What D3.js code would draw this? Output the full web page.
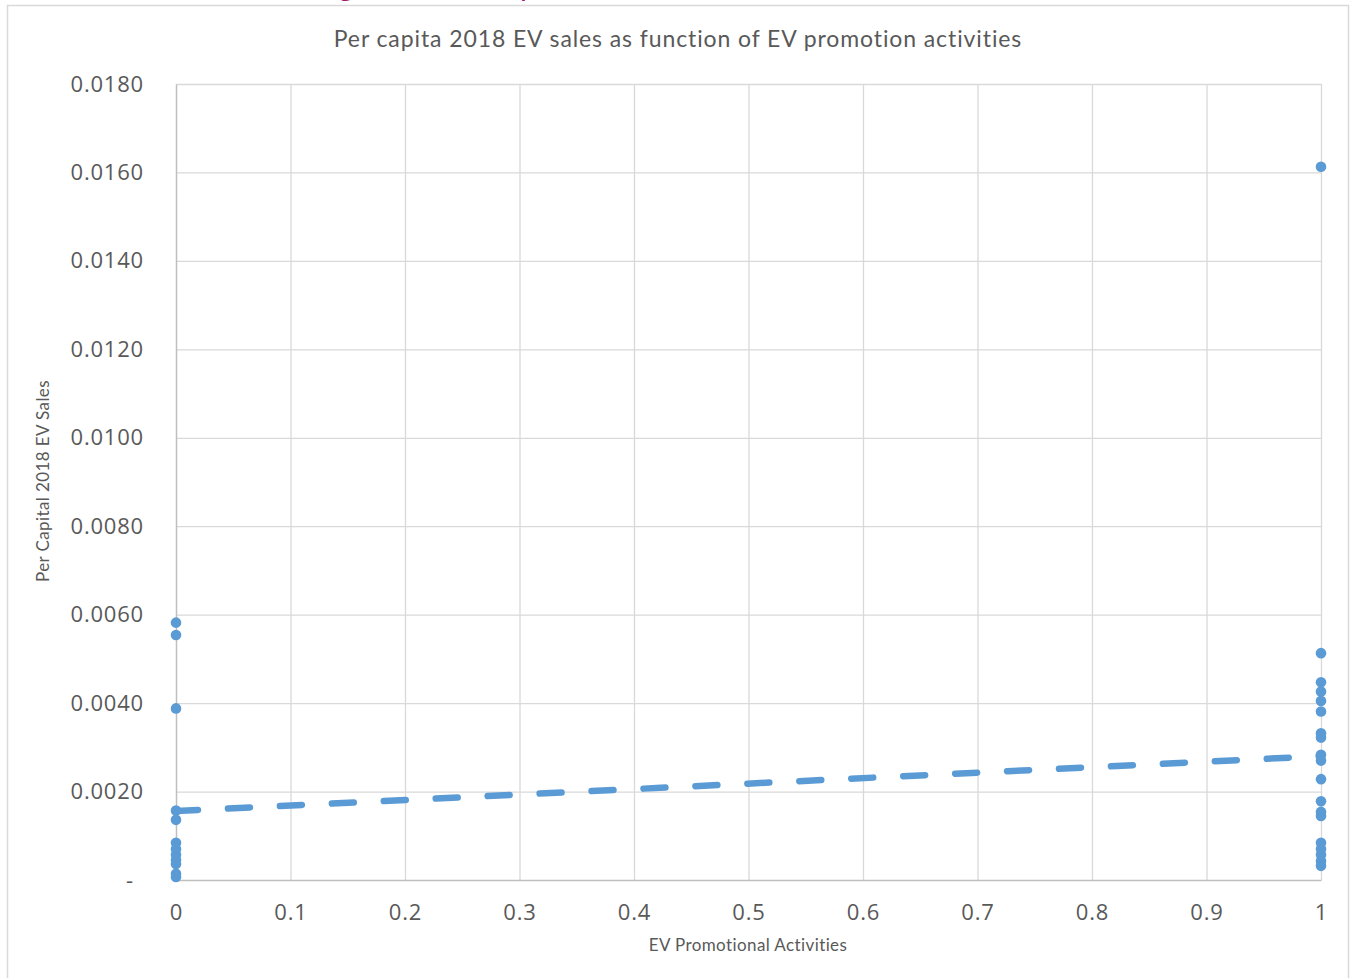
<!DOCTYPE html>
<html>
<head>
<meta charset="utf-8">
<script src="https://cdn.jsdelivr.net/npm/d3@7"></script>
<style>
  html, body { margin: 0; padding: 0; background: #fff; }
  svg { display: block; }
</style>
</head>
<body>
<svg id="chart" width="1353" height="978"></svg>
<script>
// ---- data ----
const xTicks = [0, 0.1, 0.2, 0.3, 0.4, 0.5, 0.6, 0.7, 0.8, 0.9, 1];
const xTickLabels = ["0", "0.1", "0.2", "0.3", "0.4", "0.5", "0.6", "0.7", "0.8", "0.9", "1"];
const yTicks = [0, 0.002, 0.004, 0.006, 0.008, 0.010, 0.012, 0.014, 0.016, 0.018];
const yTickLabels = ["-", "0.0020", "0.0040", "0.0060", "0.0080", "0.0100", "0.0120", "0.0140", "0.0160", "0.0180"];

const salesNoPromotion = [0.00582, 0.00554, 0.00388, 0.00157, 0.00136, 0.00084, 0.00070,
                          0.00057, 0.00045, 0.00036, 0.00014, 0.00007];
const salesWithPromotion = [0.01613, 0.00513, 0.00447, 0.00426, 0.00405, 0.00381, 0.00332,
                            0.00322, 0.00283, 0.00270, 0.00228, 0.00178, 0.00154, 0.00145,
                            0.00084, 0.00070, 0.00057, 0.00043, 0.00032];
const trendX = [0, 1];
const trendY = [0.00156, 0.00280];

const title = "Per capita 2018 EV sales as function of EV promotion activities";
const xTitle = "EV Promotional Activities";
const yTitle = "Per Capital 2018 EV Sales";

// ---- drawing ----
const svg = d3.select("#chart");
const font = "Lato, 'Open Sans', sans-serif";
const tickFont = "'Open Sans', 'Noto Sans', sans-serif";
const textColor = "#595959";
const blue = "#5b9bd5";

// heading of the page above, clipped by the screenshot (only descenders visible)
svg.append("text").attr("x", 338).attr("y", -4).attr("font-family", font)
  .attr("font-size", 30).attr("fill", "#a3176e").text("g");
svg.append("text").attr("x", 520).attr("y", -4).attr("font-family", font)
  .attr("font-size", 30).attr("fill", "#a3176e").text("p");

// outer chart border
svg.append("rect").attr("x", 7.5).attr("y", 5.5).attr("width", 1341).attr("height", 990)
  .attr("fill", "none").attr("stroke", "#d9d9d9").attr("stroke-width", 1.5);

const x = d3.scaleLinear().domain([0, 1]).range([176, 1321]);
const y = d3.scaleLinear().domain([0, 0.018]).range([880, 84]);

// gridlines
svg.append("g").attr("transform", "translate(176,0)")
  .call(d3.axisLeft(y).tickValues(yTicks.slice(1)).tickSize(-(1321 - 176)).tickFormat(""))
  .call(g => g.select(".domain").remove())
  .call(g => g.selectAll("line").attr("stroke", "#d9d9d9").attr("stroke-width", 1.3));
svg.append("g").attr("transform", "translate(0,84)")
  .call(d3.axisBottom(x).tickValues(xTicks.slice(1)).tickSize(880 - 84).tickFormat(""))
  .call(g => g.select(".domain").remove())
  .call(g => g.selectAll("line").attr("stroke", "#d9d9d9").attr("stroke-width", 1.3));

// axes
const xAxis = svg.append("g").attr("transform", "translate(0,880)")
  .call(d3.axisBottom(x).tickValues(xTicks).tickSize(0).tickPadding(24)
    .tickFormat((d, i) => xTickLabels[i]));
xAxis.select(".domain").attr("stroke", "#bfbfbf").attr("stroke-width", 1.5);
xAxis.selectAll("text").attr("font-family", tickFont).attr("font-size", 22)
  .attr("letter-spacing", "0.8px").attr("fill", textColor);

const yAxis = svg.append("g").attr("transform", "translate(176,0)")
  .call(d3.axisLeft(y).tickValues(yTicks).tickSize(0).tickPadding(32)
    .tickFormat((d, i) => yTickLabels[i]));
yAxis.select(".domain").attr("stroke", "#bfbfbf").attr("stroke-width", 1.5);
yAxis.selectAll("text").attr("font-family", tickFont).attr("font-size", 22)
  .attr("letter-spacing", "0.8px").attr("fill", textColor);
yAxis.selectAll(".tick").filter(d => d === 0).select("text").attr("dx", "-10");

// titles
svg.append("text").attr("x", 678).attr("y", 47).attr("text-anchor", "middle")
  .attr("font-family", font).attr("font-size", 23).attr("letter-spacing", "0.9px")
  .attr("fill", textColor).text(title);
svg.append("text").attr("x", 748).attr("y", 951).attr("text-anchor", "middle")
  .attr("font-family", font).attr("font-size", 17).attr("letter-spacing", "0.4px")
  .attr("fill", textColor).text(xTitle);
svg.append("text").attr("transform", "translate(49,481) rotate(-90)").attr("text-anchor", "middle")
  .attr("font-family", font).attr("font-size", 17).attr("letter-spacing", "0.4px")
  .attr("fill", textColor).text(yTitle);

// points
const pts = salesNoPromotion.map(v => [0, v]).concat(salesWithPromotion.map(v => [1, v]));
svg.append("g").selectAll("circle").data(pts).join("circle")
  .attr("cx", d => x(d[0])).attr("cy", d => y(d[1])).attr("r", 5.3).attr("fill", blue);

// trendline
svg.append("path")
  .datum(trendX.map((v, i) => [v, trendY[i]]))
  .attr("d", d3.line().x(d => x(d[0])).y(d => y(d[1])))
  .attr("fill", "none").attr("stroke", blue).attr("stroke-width", 6.5)
  .attr("stroke-linecap", "round").attr("stroke-dasharray", "22,30");
</script>
</body>
</html>
